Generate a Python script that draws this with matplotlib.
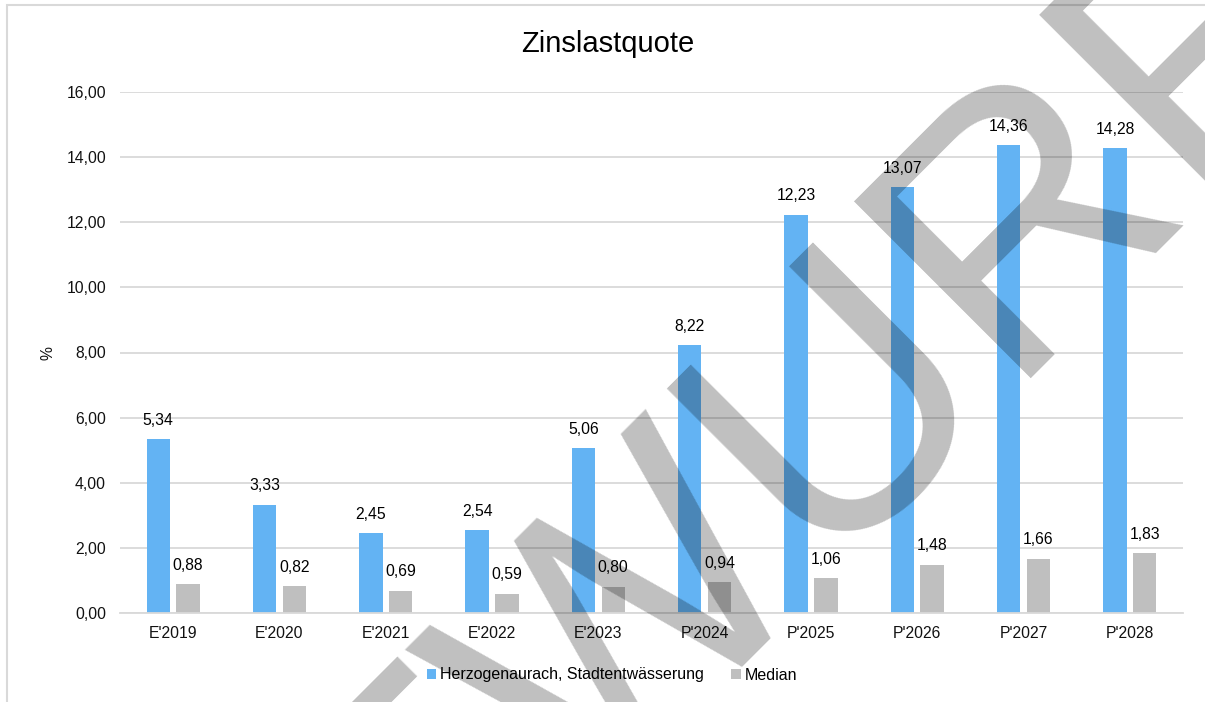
import matplotlib
matplotlib.use("Agg")
import matplotlib.pyplot as plt
import numpy as np
from matplotlib.patches import Rectangle

plt.rcParams['font.family'] = ['Liberation Sans', 'DejaVu Sans']

categories = ["E'2019", "E'2020", "E'2021", "E'2022", "E'2023",
              "P'2024", "P'2025", "P'2026", "P'2027", "P'2028"]
stadt = [5.34, 3.33, 2.45, 2.54, 5.06, 8.22, 12.23, 13.07, 14.36, 14.28]
median = [0.88, 0.82, 0.69, 0.59, 0.80, 0.94, 1.06, 1.48, 1.66, 1.83]
series_names = ["Herzogenaurach, Stadtentwässerung", "Median"]
title = "Zinslastquote"
ylabel = "%"
yticks = [0, 2, 4, 6, 8, 10, 12, 14, 16]

W, H = 1205, 702
fig = plt.figure(figsize=(W / 100, H / 100), dpi=100)
ax = fig.add_axes([120 / W, 1 - 613 / H, (1183 - 120) / W, (613 - 92) / H])

blue = "#63B3F3"
gray = "#BFBFBF"
x = np.arange(len(categories))
bw = 0.22
off = 0.14
b1 = ax.bar(x - off, stadt, bw, color=blue, zorder=2)
b2 = ax.bar(x + off, median, bw, color=gray, zorder=2)

fmt = lambda v: f"{v:.2f}".replace(".", ",")
for xi, v in zip(x - off, stadt):
    ax.annotate(fmt(v), (xi, v), xytext=(0, 19), textcoords="offset pixels",
                ha="center", va="center", fontsize=11.3, color="#000000")
for xi, v in zip(x + off, median):
    ax.annotate(fmt(v), (xi, v), xytext=(0, 19), textcoords="offset pixels",
                ha="center", va="center", fontsize=11.3, color="#000000")

ax.set_xlim(-0.5, len(categories) - 0.5)
ax.set_ylim(0, 16)
ax.set_yticks(yticks)
ax.set_yticklabels([fmt(t) for t in yticks], fontsize=11.3, color="#111111")
ax.set_xticks(x)
ax.set_xticklabels(categories, fontsize=11.3, color="#111111")
ax.tick_params(axis="both", length=0)
ax.tick_params(axis="y", pad=10)
ax.tick_params(axis="x", pad=9)
ax.grid(axis="y", color="#D9D9D9", linewidth=1.3, zorder=0)
ax.set_axisbelow(True)
for s in ["top", "right", "left"]:
    ax.spines[s].set_visible(False)
ax.spines["bottom"].set_color("#D9D9D9")
ax.spines["bottom"].set_linewidth(1.3)

fig.text(48 / W, 1 - 353 / H, ylabel, rotation=90, ha="center", va="center",
         fontsize=11.3, color="#111111")
fig.text(608 / W, 1 - 44 / H, title, ha="center", va="center", fontsize=21,
         color="#000000")

handles = [Rectangle((0, 0), 1, 1, facecolor=blue, edgecolor="none"),
           Rectangle((0, 0), 1, 1, facecolor=gray, edgecolor="none")]
leg = fig.legend(handles=handles, labels=series_names, loc="center",
                 bbox_to_anchor=(612 / W, 1 - 675 / H), ncol=2, frameon=False,
                 fontsize=11.5, handlelength=0.6, handleheight=0.6,
                 handletextpad=0.25, columnspacing=1.67)

# figure border
fig.patches.append(Rectangle((7 / W, -0.1), 1.2, 1 - 5 / H + 0.1,
                             transform=fig.transFigure, fill=False,
                             edgecolor="#D9D9D9", linewidth=1.5))

# watermark
fig.text(702 / W, 1 - 678 / H, "ENTWURF", rotation=45, rotation_mode="anchor",
         ha="center", va="baseline", fontsize=262, color="black", alpha=0.25,
         zorder=10)

fig.savefig("out.png", dpi=100)
